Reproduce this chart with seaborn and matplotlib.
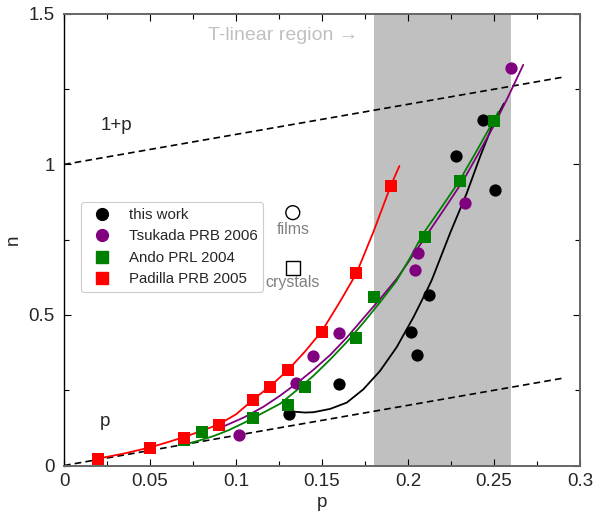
import matplotlib
matplotlib.use("Agg")
import matplotlib.pyplot as plt
import seaborn as sns
from matplotlib.lines import Line2D
from matplotlib.ticker import MultipleLocator

# data points
this_p = [0.131, 0.160, 0.202, 0.205, 0.212, 0.228, 0.2437, 0.2505]
this_n = [0.171, 0.272, 0.445, 0.368, 0.567, 1.027, 1.147, 0.916]

tsukada_p = [0.102, 0.135, 0.145, 0.160, 0.204, 0.206, 0.233, 0.2597]
tsukada_n = [0.100, 0.275, 0.364, 0.441, 0.649, 0.705, 0.871, 1.320]

ando_p = [0.070, 0.080, 0.110, 0.130, 0.140, 0.170, 0.180, 0.210, 0.230, 0.250]
ando_n = [0.085, 0.112, 0.159, 0.201, 0.260, 0.423, 0.559, 0.760, 0.944, 1.146]

padilla_p = [0.02, 0.05, 0.07, 0.09, 0.11, 0.12, 0.13, 0.15, 0.17, 0.19]
padilla_n = [0.023, 0.057, 0.092, 0.135, 0.216, 0.262, 0.317, 0.445, 0.639, 0.930]

# fitted curves
fit_this_p = [0.1333, 0.140, 0.145, 0.1547, 0.1644, 0.174, 0.1837, 0.1934, 0.2031, 0.2109,
              0.2138, 0.2244, 0.2341, 0.2419, 0.2496, 0.2558]
fit_this_n = [0.179, 0.176, 0.177, 0.188, 0.209, 0.253, 0.314, 0.393, 0.492, 0.581,
              0.616, 0.771, 0.904, 1.026, 1.137, 1.203]

fit_tsukada_p = [0.092, 0.1047, 0.1159, 0.1256, 0.1353, 0.145, 0.1547, 0.1644, 0.174, 0.1837,
                 0.1934, 0.2031, 0.2128, 0.2225, 0.2322, 0.2409, 0.2496, 0.2583, 0.267]
fit_tsukada_n = [0.128, 0.160, 0.195, 0.232, 0.273, 0.318, 0.367, 0.425, 0.489, 0.553,
                 0.620, 0.700, 0.782, 0.864, 0.948, 1.036, 1.126, 1.226, 1.331]

fit_ando_p = [0.069, 0.078, 0.087, 0.096, 0.1047, 0.110, 0.1256, 0.1353, 0.145, 0.1547, 0.1644,
              0.174, 0.1837, 0.1934, 0.2012, 0.2089, 0.2194, 0.2298, 0.2399, 0.25, 0.2525]
fit_ando_n = [0.068, 0.082, 0.098, 0.118, 0.142, 0.158, 0.205, 0.250, 0.298, 0.352, 0.410,
              0.474, 0.542, 0.614, 0.690, 0.771, 0.857, 0.945, 1.045, 1.148, 1.175]

fit_padilla_p = [0.018, 0.035, 0.05, 0.06, 0.07, 0.08, 0.09, 0.10, 0.11, 0.12, 0.13, 0.14,
                 0.15, 0.16, 0.17, 0.18, 0.19, 0.195]
fit_padilla_n = [0.021, 0.040, 0.060, 0.077, 0.095, 0.115, 0.137, 0.170, 0.219, 0.264, 0.316,
                 0.378, 0.447, 0.540, 0.638, 0.778, 0.930, 0.995]

# guide lines n = p and n = 1 + p
guide_p = [0.0, 0.29]
guide_low = [0.0, 0.29]
guide_high = [1.0, 1.29]

# key for open symbols
key_p = [0.133, 0.133]
key_n = [0.840, 0.657]
key_labels = ["films", "crystals"]
key_label_n = [0.785, 0.607]

legend_labels = ["this work", "Tsukada PRB 2006", "Ando PRL 2004", "Padilla PRB 2005"]
x_ticks = [0, 0.05, 0.1, 0.15, 0.2, 0.25, 0.3]
x_tick_labels = ["0", "0.05", "0.1", "0.15", "0.2", "0.25", "0.3"]
y_ticks = [0, 0.5, 1, 1.5]
y_tick_labels = ["0", "0.5", "1", "1.5"]

sns.set_style("ticks")
plt.rcParams["font.family"] = ["Liberation Sans", "DejaVu Sans"]

fig = plt.figure(figsize=(5.95, 5.12), dpi=100)
ax = fig.add_axes([0.1076, 0.0908, 0.8672, 0.8819])

# T-linear region
ax.axvspan(0.18, 0.26, color="#c0c0c0", lw=0, zorder=0)

# guide lines
for gy in (guide_low, guide_high):
    sns.lineplot(x=guide_p, y=gy, ax=ax, color="black", lw=1.2,
                 linestyle=(0, (4, 2.5)), zorder=1)

# fits
fits = [(fit_this_p, fit_this_n, "black"),
        (fit_tsukada_p, fit_tsukada_n, "#800080"),
        (fit_ando_p, fit_ando_n, "#008000"),
        (fit_padilla_p, fit_padilla_n, "#ff0000")]
for fx, fy, c in fits:
    sns.lineplot(x=fx, y=fy, ax=ax, color=c, lw=1.3, zorder=2)

# data
series = [(this_p, this_n, "black", "o", 78),
          (tsukada_p, tsukada_n, "#800080", "o", 78),
          (ando_p, ando_n, "#008000", "s", 70),
          (padilla_p, padilla_n, "#ff0000", "s", 70)]
for sx, sy, c, m, s in series:
    sns.scatterplot(x=sx, y=sy, ax=ax, color=c, marker=m, s=s, linewidth=0, zorder=3)

# open symbol key
ax.scatter(key_p[:1], key_n[:1], marker="o", s=100, facecolor="none", edgecolor="black", lw=1, zorder=3)
ax.scatter(key_p[1:], key_n[1:], marker="s", s=100, facecolor="none", edgecolor="black", lw=1, zorder=3)
for kp, kn, kl in zip(key_p, key_label_n, key_labels):
    ax.text(kp, kn, kl, ha="center", va="center", fontsize=11.5, color="#808080")

ax.text(0.021, 1.131, "1+p", ha="left", va="center", fontsize=13.5)
ax.text(0.021, 0.146, "p", ha="left", va="center", fontsize=13.5)
ax.text(0.171, 1.427, "T-linear region \u2192", ha="right", va="center", fontsize=14, color="#c0c0c0")

handles = [Line2D([], [], ls="", marker=m, color=c, markersize=8.5)
           for _, _, c, m, _ in series]
leg = ax.legend(handles, legend_labels, loc="upper left", bbox_to_anchor=(0.032, 0.584),
                borderaxespad=0, fontsize=10.8, frameon=True, framealpha=1, fancybox=True)
leg.get_frame().set_edgecolor("#cccccc")
leg.get_frame().set_linewidth(0.8)

ax.set_xlim(0, 0.3)
ax.set_ylim(0, 1.5)
ax.set_xticks(x_ticks, x_tick_labels)
ax.set_yticks(y_ticks, y_tick_labels)
ax.xaxis.set_minor_locator(MultipleLocator(0.025))
ax.yaxis.set_minor_locator(MultipleLocator(0.25))
ax.tick_params(which="both", direction="in", top=True, right=True, labelsize=13.5, color="black")
ax.tick_params(which="major", length=5, width=0.8)
ax.tick_params(which="minor", length=3.5, width=0.8)
ax.tick_params(axis="x", pad=5.5)
ax.tick_params(axis="y", pad=6.5)
ax.set_xlabel("p", fontsize=13.5, labelpad=3)
ax.set_ylabel("n", fontsize=13.5, labelpad=5)

for side in ["top", "bottom", "right"]:
    ax.spines[side].set_color("#666666")
    ax.spines[side].set_linewidth(1.4)
ax.spines["left"].set_color("black")
ax.spines["left"].set_linewidth(1.0)

fig.savefig("out.png", dpi=100)
